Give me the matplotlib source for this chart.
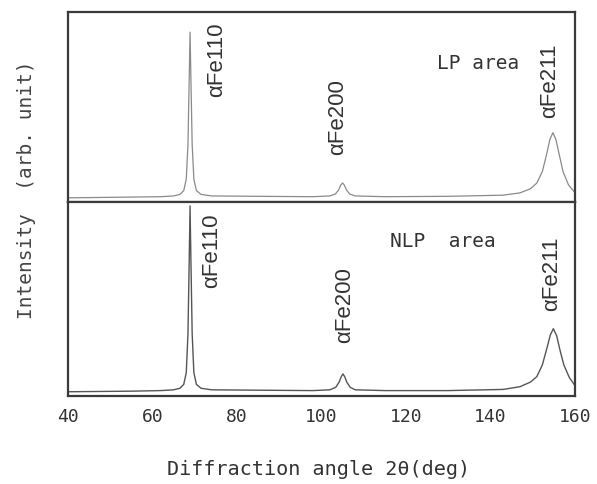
import matplotlib
matplotlib.use('Agg')
import matplotlib.pyplot as plt

# points read along the LP area pattern (deg, normalised intensity)
lp_angle = [40, 55, 62, 65, 66.5, 67.4, 68.0, 68.4, 68.7, 68.9, 69.1, 69.4, 69.8, 70.4, 71.5, 74,
            85, 98, 102, 103.3, 104.1, 104.6, 105.0, 105.4, 105.9, 106.7, 108, 115, 130, 143,
            147, 149.5, 151, 152.3, 153.3, 154.1, 154.8, 155.5, 156.3, 157.2, 158.5, 160]
lp_int = [0.022, 0.026, 0.028, 0.032, 0.04, 0.06, 0.12, 0.3, 0.65, 0.894, 0.65, 0.3, 0.12, 0.06,
          0.04, 0.032, 0.03, 0.028, 0.032, 0.042, 0.065, 0.09, 0.10, 0.09, 0.065, 0.042, 0.032,
          0.028, 0.03, 0.036, 0.048, 0.07, 0.1, 0.16, 0.25, 0.33, 0.365, 0.33, 0.25, 0.16, 0.09,
          0.05]

# points read along the NLP area pattern
nlp_angle = [40, 55, 62, 65, 66.5, 67.4, 68.0, 68.4, 68.7, 68.9, 69.1, 69.4, 69.8, 70.4, 71.5, 74,
             85, 98, 102, 103.4, 104.2, 104.7, 105.1, 105.5, 106.0, 106.8, 108, 115, 130, 143,
             147, 149.5, 151, 152.3, 153.3, 154.2, 154.9, 155.7, 156.5, 157.4, 158.7, 160]
nlp_int = [0.022, 0.025, 0.028, 0.032, 0.04, 0.06, 0.12, 0.32, 0.7, 0.98, 0.7, 0.32, 0.12, 0.06,
           0.04, 0.032, 0.03, 0.028, 0.032, 0.045, 0.072, 0.1, 0.114, 0.1, 0.072, 0.045, 0.032,
           0.028, 0.028, 0.034, 0.048, 0.072, 0.1, 0.16, 0.24, 0.315, 0.347, 0.31, 0.235, 0.16,
           0.095, 0.055]

xticks = [40, 60, 80, 100, 120, 140, 160]

# peak labels: (text, x, y top) per panel
lp_labels = [('αFe110', 75.3, 0.95), ('αFe200', 103.9, 0.65), ('αFe211', 154.1, 0.84)]
nlp_labels = [('αFe110', 74.1, 0.945), ('αFe200', 105.6, 0.67), ('αFe211', 154.6, 0.825)]

mono = 'DejaVu Sans Mono'

fig = plt.figure(figsize=(5.97, 4.85), dpi=100)
ax_top = fig.add_axes([0.1139, 0.5814, 0.849, 0.3918])
ax_bot = fig.add_axes([0.1139, 0.1814, 0.849, 0.4000])

ax_top.plot(lp_angle, lp_int, color='#8a8a8a', lw=0.9)
ax_bot.plot(nlp_angle, nlp_int, color='#555555', lw=1.0)

for ax in (ax_top, ax_bot):
    ax.set_xlim(40, 160)
    ax.set_ylim(0, 1)
    ax.set_yticks([])
    for s in ax.spines.values():
        s.set_linewidth(1.6)
        s.set_color('#3a3a3a')
    ax.tick_params(axis='x', length=0)

ax_top.set_xticks([])
ax_bot.set_xticks(xticks)
ax_bot.set_xticklabels([str(t) for t in xticks], family=mono, fontsize=13, color='#333333')
ax_bot.tick_params(axis='x', pad=8)

for txt, x, y in lp_labels:
    ax_top.text(x, y, txt, rotation=90, ha='center', va='top', family='Liberation Sans',
                fontsize=16, color='#333333')
for txt, x, y in nlp_labels:
    ax_bot.text(x, y, txt, rotation=90, ha='center', va='top', family='Liberation Sans',
                fontsize=16, color='#333333')

ax_top.text(127.3, 0.735, 'LP area', ha='left', va='center', family=mono, fontsize=14,
            color='#333333')
ax_bot.text(116.2, 0.80, 'NLP  area', ha='left', va='center', family=mono, fontsize=14,
            color='#333333')

fig.text(27 / 597, 1 - 190 / 485, 'Intensity  (arb. unit)', rotation=90, ha='center',
         va='center', family=mono, fontsize=14, color='#444444')
fig.text(0.5 * (165 + 473) / 597, 1 - 470 / 485, 'Diffraction angle 2θ(deg)', ha='center',
         va='center', family=mono, fontsize=14.5, color='#333333')

fig.savefig('out.png', dpi=100)
